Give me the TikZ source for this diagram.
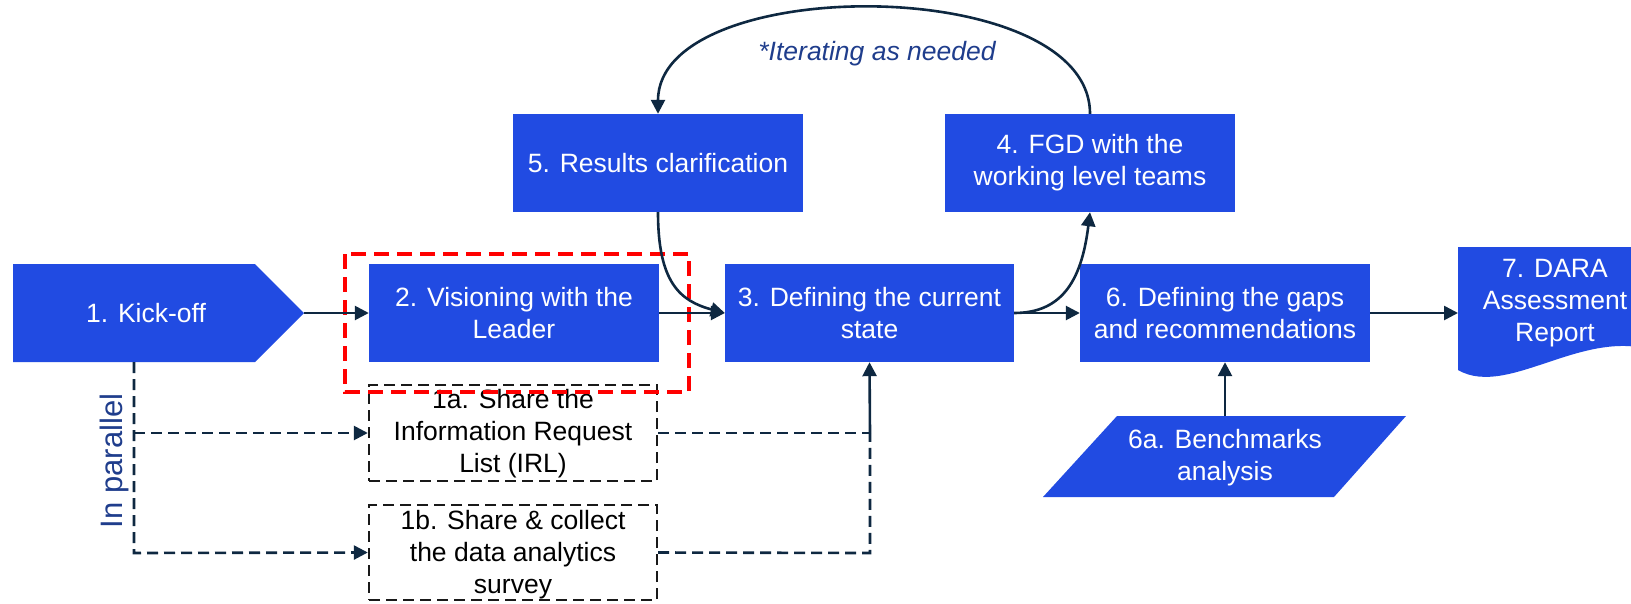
\documentclass[tikz,border=0pt]{standalone}
\usepackage{fontspec}
\setmainfont{Liberation Sans}
\usetikzlibrary{arrows.meta}
\definecolor{boxblue}{HTML}{214BE2}
\definecolor{navy}{HTML}{0E2841}
\definecolor{txtblue}{HTML}{1F3D8C}
\definecolor{redd}{HTML}{FF0000}
\begin{document}
\begin{tikzpicture}[x=1pt,y=-1pt,
  every node/.style={font=\fontsize{26.5}{32}\selectfont, align=center, inner sep=0pt},
  bluebox/.style={fill=boxblue, text=white, minimum width=290pt, minimum height=98pt},
  whitetext/.style={text=white},
  dbox/.style={draw=black!90, line width=2.4pt, dash pattern=on 11pt off 6pt, minimum width=288pt, minimum height=96pt},
  conn/.style={draw=navy, line width=2.6pt, -{Triangle[length=14pt,width=14pt]}},
  dline/.style={draw=navy, line width=2.6pt, dash pattern=on 11pt off 6pt},
  darrow/.style={dline, -{Triangle[length=14pt,width=14pt]}},
]
\useasboundingbox (0,0) rectangle (1631,603);

% 1. Kick-off
\fill[boxblue] (13,264) -- (255,264) -- (304,313) -- (255,362) -- (13,362) -- cycle;
\node[whitetext] (kick) at (146,313) {1. Kick-off};
\coordinate (ktip) at (304,313);
\coordinate (kb) at (134,362);

% main boxes
\node[bluebox] (b2) at (514,313) {2. Visioning with the\\Leader};
\node[bluebox, minimum width=289pt] (b3) at (869.5,313) {3. Defining the current\\state};
\node[bluebox] (b5) at (658,163) {5. Results clarification};
\node[bluebox] (b4) at (1090,163) {4. FGD with the\\working level teams};
\node[bluebox] (b6) at (1225,313) {6. Defining the gaps\\and recommendations};

% 7. document shape
\begin{scope}
\clip (0,0) rectangle (1631,603);
\fill[boxblue] (1458,247) -- (1665,247) -- (1665,355)
  .. controls (1590,320) and (1510,400) .. (1458,370) -- cycle;
\end{scope}
\node[whitetext] (b7) at (1555,303) {7. DARA\\Assessment\\Report};
\coordinate (d7w) at (1458,313);

% 6a parallelogram
\fill[boxblue] (1117,416) -- (1406,416) -- (1334,497) -- (1043,497) -- cycle;
\node[whitetext] (b6a) at (1225,458) {6a. Benchmarks\\analysis};
\coordinate (p6a) at (1225,416);

% dashed boxes
\node[dbox] (b1a) at (513,433) {};
\node (t1a) at (513,434) {1a. Share the\\Information Request\\List (IRL)};
\node[dbox, minimum height=95pt] (b1b) at (513,552.5) {};
\node (t1b) at (513,555) {1b. Share \& collect\\the data analytics\\survey};

% red highlight
\draw[redd, line width=4pt, dash pattern=on 15pt off 8pt] (345,254) rectangle (689,392);

% connectors
\draw[conn] (ktip) -- (b2.west);
\draw[conn] (b2.east) -- (b3.west);
\draw[conn] (b3.east) -- (b6.west);
\draw[conn] (b6.east) -- (d7w);
\draw[conn] (p6a) -- (b6.south);
\draw[conn] (b5.south) .. controls +(0,70) and +(-45,-12) .. (b3.west);
\draw[conn] (b3.east) .. controls +(50,0) and +(-8,65) .. (b4.south);
\draw[conn] (b4.north) .. controls +(0,-141) and +(0,-141) .. (b5.north);
\node[text=txtblue, font=\fontsize{26.5}{32}\selectfont\itshape] (iter) at (877,54) {*Iterating as needed};

% parallel dashed
\coordinate (p1) at (134,433);
\coordinate (p2) at (134,553);
\draw[darrow] (kb) -- (p2) -- (b1b.west);
\draw[darrow] (p1) -- (b1a.west);
\coordinate (q1) at (870,433);
\coordinate (q2) at (870,553);
\draw[dline] (b1a.east) -- (q1);
\draw[dline] (b1b.east) -- (q2) -- (q1);
\draw[conn] (q1) -- (b3.south);

\node[rotate=90, text=txtblue, font=\fontsize{31}{36}\selectfont] (par) at (114,461) {In parallel};
\end{tikzpicture}
\end{document}
